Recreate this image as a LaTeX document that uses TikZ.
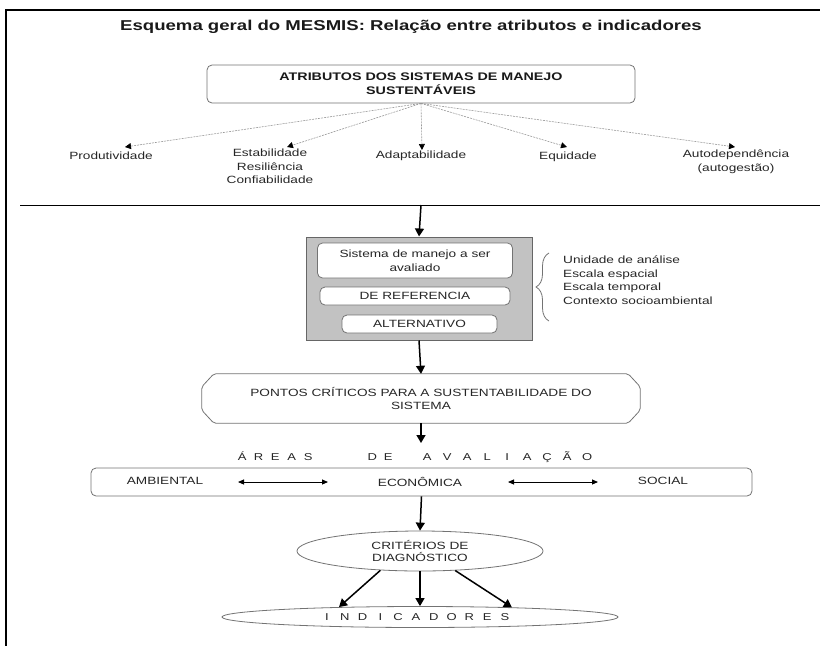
\documentclass[tikz,border=0pt]{standalone}
\usepackage{fontspec}
\setmainfont{Liberation Sans}[FakeStretch=1.3]
\usetikzlibrary{decorations.pathreplacing,arrows.meta,shapes.geometric}
\newcommand\lsA[1]{\makebox[16.5pt]{#1}}
\newcommand\lsD[1]{\makebox[16pt]{#1}}
\newcommand\lsC[1]{\makebox[20pt]{#1}}
\newcommand\lsB[1]{\makebox[17.8pt]{#1}}
\begin{document}
\begin{tikzpicture}[x=1pt,y=-1pt,
  txt/.style={font=\fontsize{10.5}{13.5}\selectfont, text=black!85, inner sep=0pt, align=center},
  boldtxt/.style={font=\bfseries\fontsize{11}{14}\selectfont, text=black!90, align=center, inner sep=0pt},
  rbox/.style={draw=black!55, rounded corners=5pt, line width=0.8pt, fill=white},
  flow/.style={-{Triangle[length=8pt,width=9pt]}, line width=1.5pt},
  dblflow/.style={{Triangle[length=6pt,width=5pt]}-{Triangle[length=6pt,width=5pt]}, line width=0.9pt},
  dotarrow/.style={-{Triangle[length=6pt,width=6pt,color=black]}, draw=black!40, line width=0.6pt, dash pattern=on 2pt off 1pt},
  outline/.style={draw=black!55, line width=0.8pt}
]
\useasboundingbox (0,0) rectangle (820,646);
% frame
\coordinate (bTL) at (6,10);
\coordinate (bTR) at (820,10);
\coordinate (bBL) at (6,646);
\draw[line width=1.8pt] (bTR) -- (bTL) -- (bBL);

% title
\node[font=\bfseries\fontsize{14.3}{17}\selectfont, text=black!90, inner sep=0pt] (title) at (411,27)
  {Esquema geral do MESMIS: Relação entre atributos e indicadores};

% attributes box
\node[rbox, boldtxt, minimum width=428pt, minimum height=38pt] (attr) at (421,84)
  {ATRIBUTOS DOS SISTEMAS DE MANEJO\\SUSTENTÁVEIS};

\node[txt] (prod) at (111,156) {Produtividade};
\node[txt, anchor=north] (estab) at (270,149) {Estabilidade\\Resiliência\\Confiabilidade};
\node[txt] (adap) at (421,156) {Adaptabilidade};
\node[txt] (equi) at (568,157) {Equidade};
\node[txt, anchor=north] (auto) at (736,150) {Autodependência\\(autogestão)};

\coordinate (t1) at (125,147);
\coordinate (t2) at (287,147);
\coordinate (t3) at (422,150);
\coordinate (t4) at (567,147);
\coordinate (t5) at (735,147);
\foreach \t in {t1,t2,t3,t4,t5} \draw[dotarrow] (attr.south) -- (\t);

% separator
\coordinate (hlL) at (20,205);
\coordinate (hlR) at (820,205);
\coordinate (hlM) at (421,205);
\draw[line width=1pt] (hlL) -- (hlR);

% grey system box
\node[draw=black!60, fill=black!24, line width=1pt, minimum width=226pt, minimum height=103pt, inner sep=0pt] (gray) at (419,288.5) {};
\node[rbox, txt, minimum width=195pt, minimum height=35pt] (sis) at (415,260.5) {Sistema de manejo a ser\\avaliado};
\node[rbox, txt, minimum width=190pt, minimum height=18pt] (ref) at (415,296) {DE REFERENCIA};
\node[rbox, txt, minimum width=155pt, minimum height=18pt] (alt) at (419.5,324) {ALTERNATIVO};
\draw[flow] (hlM) -- (gray.north);

% brace and list
\coordinate (brB) at (549,321);
\coordinate (brT) at (549,253);
\draw[draw=black!55, line width=0.8pt, decorate, decoration={brace, amplitude=13pt}] (brB) -- (brT);
\node[txt, align=left, anchor=north west, font=\fontsize{10.5}{13.5}\selectfont] (list) at (563,256)
  {Unidade de análise\\Escala espacial\\Escala temporal\\Contexto socioambiental};

% pontos criticos
\node[txt, minimum width=438pt, minimum height=49pt] (pontos) at (421,398.5)
  {PONTOS CRÍTICOS PARA A SUSTENTABILIDADE DO\\SISTEMA};
\draw[outline, rounded corners=2pt]
  ([xshift=12pt]pontos.north west) -- ([xshift=-12pt]pontos.north east) -- ([yshift=-13pt]pontos.north east)
  -- ([yshift=13pt]pontos.south east) -- ([xshift=-12pt]pontos.south east) -- ([xshift=12pt]pontos.south west)
  -- ([yshift=13pt]pontos.south west) -- ([yshift=-13pt]pontos.north west) -- cycle;
\draw[flow] (gray.south) -- (pontos.north);

% areas
\node[txt, font=\fontsize{10}{12}\selectfont, anchor=west] (areasT) at (233.75,457)
  {\lsA{Á}\lsA{R}\lsA{E}\lsA{A}\lsA{S}\hspace{47.75pt}\lsD{D}\lsD{E}\hspace{21pt}\lsC{A}\lsC{V}\lsC{A}\lsC{L}\lsC{I}\lsC{A}\lsC{Ç}\lsC{Ã}\lsC{O}};
\coordinate (atip) at (421,443);
\draw[flow] (pontos.south) -- (atip);

\node[rbox, minimum width=661pt, minimum height=28pt] (areas) at (421.5,482) {};
\node[txt] (amb) at (165,481) {AMBIENTAL};
\node[txt] (econ) at (420,482) {ECONÔMICA};
\node[txt] (soc) at (663,481) {SOCIAL};
\coordinate (a1) at (238,482);
\coordinate (a2) at (328,482);
\coordinate (a3) at (508,482);
\coordinate (a4) at (598,482);
\draw[dblflow] (a1) -- (a2);
\draw[dblflow] (a3) -- (a4);

% criterios
\node[outline, ellipse, minimum width=246pt, minimum height=40pt, inner sep=0pt] (crit) at (420,551) {};
\node[txt, font=\fontsize{10.5}{12}\selectfont] (critT) at (420,551) {CRITÉRIOS DE\\DIAGNÓSTICO};
\draw[flow] (areas.south) -- (crit.north);

% indicadores
\node[outline, ellipse, minimum width=396pt, minimum height=21pt, inner sep=0pt] (ind) at (420,617) {};
\node[txt, font=\fontsize{10}{12}\selectfont] (indT) at (416,617)
  {\lsB{I}\lsB{N}\lsB{D}\lsB{I}\lsB{C}\lsB{A}\lsB{D}\lsB{O}\lsB{R}\lsB{E}\lsB{S}};
\draw[flow] (crit.206) -- (ind.173.5);
\draw[flow] (crit.south) -- (ind.north);
\draw[flow] (crit.331) -- (ind.6.5);
\end{tikzpicture}
\end{document}
